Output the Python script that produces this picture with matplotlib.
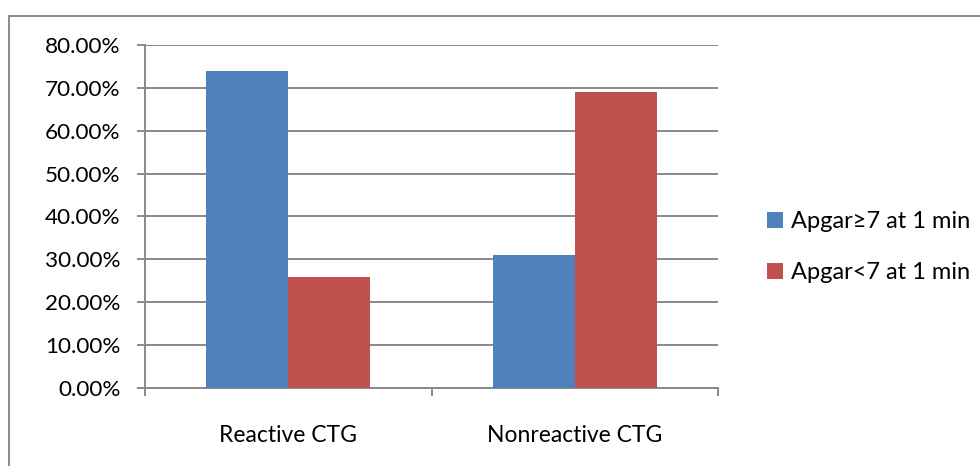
import matplotlib
matplotlib.use("Agg")
import matplotlib.pyplot as plt
from matplotlib.patches import Rectangle
from matplotlib.ticker import FuncFormatter, FixedLocator
import numpy as np

categories = ["Reactive CTG", "Nonreactive CTG"]
series_names = ["Apgar\u22657 at 1 min", "Apgar<7 at 1 min"]
apgar_ge7 = [74, 31]
apgar_lt7 = [26, 69]
colors = ["#4F81BD", "#C0504D"]

plt.rcParams['font.family'] = ['Lato', 'DejaVu Sans']
fig = plt.figure(figsize=(9.8, 4.66), dpi=100)
W, H = 980, 466
ax = fig.add_axes([145/W, 1-388/H, (718-145)/W, (388-45)/H])

x = np.arange(len(categories))
bw = 1/3.5  # Excel gap width 150%
ax.bar(x - bw/2, apgar_ge7, width=bw, color=colors[0], label=series_names[0], zorder=3)
ax.bar(x + bw/2, apgar_lt7, width=bw, color=colors[1], label=series_names[1], zorder=3)

ax.set_xlim(-0.5, 1.5)
ax.set_ylim(0, 80)
ax.set_yticks(np.arange(0, 81, 10))
ax.yaxis.set_major_formatter(FuncFormatter(lambda v, p: f"{v:.2f}%"))
grid_c = "#898989"
ax.grid(axis='y', color=grid_c, linewidth=1.4, zorder=0)
for s in ['top', 'right']:
    ax.spines[s].set_visible(False)
for s in ['left', 'bottom']:
    ax.spines[s].set_color(grid_c)
    ax.spines[s].set_linewidth(1.4)
ax.tick_params(axis='y', length=5.5, width=1.4, color=grid_c, labelsize=16.2, pad=12)
ax.xaxis.set_major_locator(FixedLocator([-0.5, 0.5, 1.5]))
ax.xaxis.set_major_formatter(FuncFormatter(lambda v, p: ""))
ax.xaxis.set_minor_locator(FixedLocator(x))
ax.set_xticklabels(categories, minor=True)
ax.tick_params(axis='x', which='major', length=5.5, width=1.4, color=grid_c)
ax.tick_params(axis='x', which='minor', length=0, labelsize=16.5, pad=27)

leg = fig.legend(loc='upper left', bbox_to_anchor=(758/W, 1-202/H), frameon=False,
                 fontsize=17, handlelength=0.65, handleheight=0.65, handletextpad=0.35,
                 labelspacing=1.25, borderaxespad=0)

fig.add_artist(Rectangle((9/W, -0.1), 1.2, (1-16/H)+0.1, transform=fig.transFigure,
                         fill=False, edgecolor="#8a8a8a", linewidth=1.4))

fig.savefig("out.png", dpi=100)
